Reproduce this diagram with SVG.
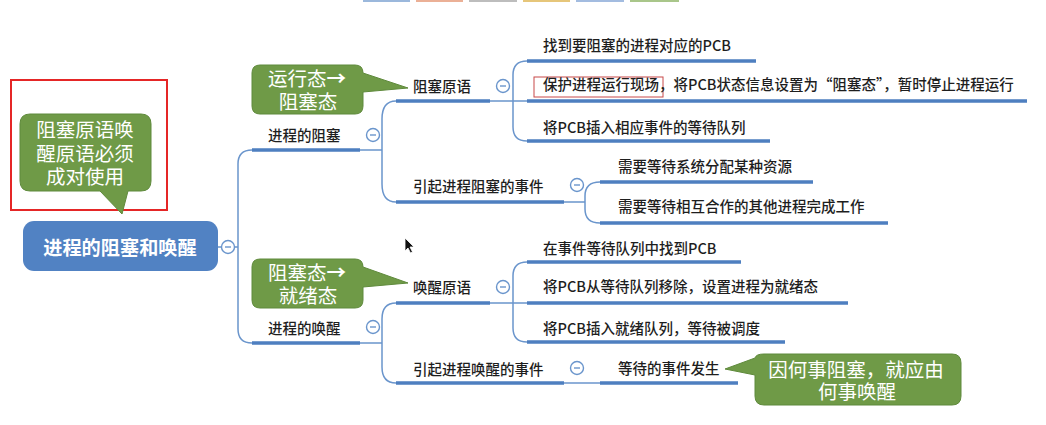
<svg xmlns="http://www.w3.org/2000/svg" width="1046" height="425" viewBox="0 0 1046 425">
<style>
.t{font-family:"Noto Sans CJK SC","Noto Sans",sans-serif;font-size:14.5px;fill:#1e1e1e;font-weight:500}
.c{font-family:"Noto Sans CJK SC","Noto Sans",sans-serif;font-size:19.5px;fill:#ffffff;text-anchor:middle}
.bar{stroke:#4e7fc0;stroke-width:3.5;fill:none}
.thin{stroke:#6a95cc;stroke-width:1.5;fill:none}
.col{fill:#ffffff;stroke:#6a95cc;stroke-width:1.4}
.minus{stroke:#6a95cc;stroke-width:1.4}
.callout{fill:#6f9a47;stroke:#5f8a3c;stroke-width:1}
</style>
<rect width="1046" height="425" fill="#ffffff"/>
<g id="topbar">
<rect x="363" y="0" width="47" height="2" fill="#9bb8dc"/>
<rect x="416" y="0" width="47" height="2" fill="#ebb096"/>
<rect x="469" y="0" width="48" height="2" fill="#bdbdbd"/>
<rect x="523" y="0" width="47" height="2" fill="#e6c67a"/>
<rect x="576" y="0" width="48" height="2" fill="#a3bce0"/>
<rect x="630" y="0" width="49" height="2" fill="#a9c68a"/>
</g>
<g id="connectors">
<path class="thin" d="M218 247 H222 M234 247 H238 M252 150 Q238 150 238 164 V329 Q238 343 252 343"/>
<path class="thin" d="M360 150 H382 M396 101 Q382 101 382 119 V184 Q382 202 396 202"/>
<path class="thin" d="M360 343 H382 M396 303 Q382 303 382 319 V367 Q382 383 396 383"/>
<path class="thin" d="M490 101 H527 M527 61 Q513 61 513 75 V127 Q513 141 527 141"/>
<path class="thin" d="M490 303 H527 M527 262 Q513 262 513 276 V328 Q513 342 527 342"/>
<path class="thin" d="M564 202 H585 M600 182 Q585 182 585 196 V209 Q585 223 600 223"/>
<path class="thin" d="M564 383 H600"/>
<path class="bar" d="M252 150 H360 M252 343 H360 M396 101 H490 M396 202 H564 M396 303 H490 M396 383 H564"/>
<path class="bar" d="M527 61 H756 M527 101 H1027 M527 141 H770 M600 182 H813 M600 223 H888 M527 262 H741 M527 303 H848 M527 342 H785 M600 383 H738"/>
</g>
<g id="collapse">
<circle class="col" cx="228" cy="247" r="6.5"/><path class="minus" d="M225 247 H231"/>
<circle class="col" cx="373" cy="135" r="6.5"/><path class="minus" d="M370 135 H376"/>
<circle class="col" cx="373" cy="327" r="6.5"/><path class="minus" d="M370 327 H376"/>
<circle class="col" cx="503" cy="86" r="6.5"/><path class="minus" d="M500 86 H506"/>
<circle class="col" cx="503" cy="287" r="6.5"/><path class="minus" d="M500 287 H506"/>
<circle class="col" cx="577" cy="185" r="6.5"/><path class="minus" d="M574 185 H580"/>
<circle class="col" cx="577" cy="368" r="6.5"/><path class="minus" d="M574 368 H580"/>
</g>
<g id="root">
<rect x="23" y="221" width="195" height="50" rx="11" fill="#5182c3"/>
<text x="120" y="255" text-anchor="middle" style="font-family:'Noto Sans CJK SC','Noto Sans',sans-serif;font-size:19.2px;font-weight:bold;fill:#ffffff">进程的阻塞和唤醒</text>
</g>
<g id="n-block"><text class="t" x="268" y="141">进程的阻塞</text></g>
<g id="n-wake"><text class="t" x="268" y="334">进程的唤醒</text></g>
<g id="n-block-prim"><text class="t" x="413" y="92">阻塞原语</text></g>
<g id="n-block-event"><text class="t" x="413" y="192">引起进程阻塞的事件</text></g>
<g id="n-wake-prim"><text class="t" x="413" y="293">唤醒原语</text></g>
<g id="n-wake-event"><text class="t" x="413" y="375">引起进程唤醒的事件</text></g>
<g id="n-b1"><text class="t" x="543" y="51">找到要阻塞的进程对应的PCB</text></g>
<g id="n-b2">
<rect x="534" y="77" width="129" height="20" fill="none" stroke="#c84848" stroke-width="1"/>
<text class="t" x="543" y="90">保护进程运行现场，将PCB状态信息设置为“阻塞态”，暂时停止进程运行</text>
</g>
<g id="n-b3"><text class="t" x="543" y="133">将PCB插入相应事件的等待队列</text></g>
<g id="n-be1"><text class="t" x="618" y="172">需要等待系统分配某种资源</text></g>
<g id="n-be2"><text class="t" x="618" y="212">需要等待相互合作的其他进程完成工作</text></g>
<g id="n-w1"><text class="t" x="543" y="254">在事件等待队列中找到PCB</text></g>
<g id="n-w2"><text class="t" x="543" y="292">将PCB从等待队列移除，设置进程为就绪态</text></g>
<g id="n-w3"><text class="t" x="543" y="334">将PCB插入就绪队列，等待被调度</text></g>
<g id="n-we1"><text class="t" x="618" y="374">等待的事件发生</text></g>
<g id="note-red-box"><rect x="11" y="80" width="156" height="130" fill="none" stroke="#e52626" stroke-width="2"/></g>
<g id="callout-pair">
<path class="callout" d="M30 114 H141 Q151 114 151 124 V181 Q151 191 141 191 H128 L122 214 L100 191 H30 Q20 191 20 181 V124 Q20 114 30 114 Z"/>
<text class="c" x="85" y="137">阻塞原语唤</text>
<text class="c" x="85" y="161">醒原语必须</text>
<text class="c" x="85" y="184">成对使用</text>
</g>
<g id="callout-run-block">
<path class="callout" d="M260 65 H355 Q363 65 363 73 L408 88 L363 92 V106 Q363 114 355 114 H260 Q252 114 252 106 V73 Q252 65 260 65 Z"/>
<text class="c" x="307" y="86">运行态<tspan font-weight="bold">→</tspan></text>
<text class="c" x="308" y="109">阻塞态</text>
</g>
<g id="callout-block-ready">
<path class="callout" d="M260 259 H355 Q363 259 363 267 L408 283 L363 287 V300 Q363 308 355 308 H260 Q252 308 252 300 V267 Q252 259 260 259 Z"/>
<text class="c" x="307" y="280">阻塞态<tspan font-weight="bold">→</tspan></text>
<text class="c" x="308" y="303">就绪态</text>
</g>
<g id="callout-event">
<path class="callout" d="M764 354 H952 Q961 354 961 363 V396 Q961 405 952 405 H764 Q755 405 755 396 V375 L725 369 L755 358 Q756 354 764 354 Z"/>
<text class="c" x="856" y="377">因何事阻塞，就应由</text>
<text class="c" x="857" y="399">何事唤醒</text>
</g>
<g id="cursor">
<path d="M405 238 V251 L408 248 L410.5 253 L412.5 252 L410 247 L414 247 Z" fill="#111111" stroke="#ffffff" stroke-width="0.8"/>
</g>
</svg>
